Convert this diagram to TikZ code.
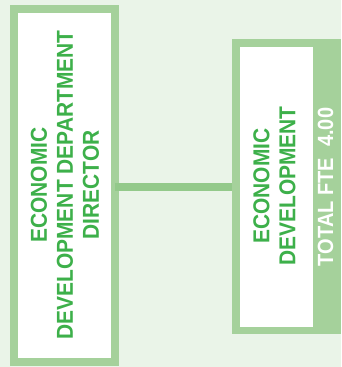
\documentclass[tikz,border=0pt]{standalone}
\usepackage{fontspec}
\setmainfont{Liberation Sans}
\newfontfamily\narrowsans[FakeStretch=0.91]{Liberation Sans}
\definecolor{bgpale}{HTML}{EAF4E8}
\definecolor{frame}{HTML}{A5D19B}
\definecolor{link}{HTML}{93C98A}
\definecolor{label}{HTML}{3DB04A}
\tikzset{
  every node/.style={inner sep=0pt, outer sep=0pt},
  headbox/.style={draw=frame, line width=8pt, fill=white, rectangle},
  unitband/.style={fill=frame, rectangle},
  unitcore/.style={fill=white, rectangle},
  boxtext/.style={rotate=90, align=center, text=label, font=\narrowsans\bfseries\fontsize{23}{26}\selectfont},
  ftetext/.style={rotate=90, text=white, font=\narrowsans\bfseries\fontsize{22}{24}\selectfont},
  linkline/.style={draw=link, line width=8pt}
}
\begin{document}
\begin{tikzpicture}[x=1pt,y=1pt]
  \fill[bgpale] (0,0) rectangle (341,367);
  \useasboundingbox (0,0) rectangle (341,367);
  % director box
  \node[headbox, minimum width=101.3pt, minimum height=353pt] (dir) at (64.65,181.5) {};
  \node[boxtext] (dirtext) at (65,182) {ECONOMIC\\DEVELOPMENT DEPARTMENT\\DIRECTOR};
  % unit box with FTE band
  \node[unitband, minimum width=109.3pt, minimum height=295pt] (unit) at (286.35,180.5) {};
  \node[unitcore, minimum width=73.3pt, minimum height=280pt] (core) at (276.65,180.3) {};
  \node[boxtext] (unittext) at (274.5,181) {ECONOMIC\\DEVELOPMENT};
  \node[ftetext] (fte) at (325.5,180) {TOTAL FTE\ \ 4.00};
  % reporting line
  \draw[linkline] (dir.east |- 0,180) -- (unit.west |- 0,180);
\end{tikzpicture}
\end{document}
